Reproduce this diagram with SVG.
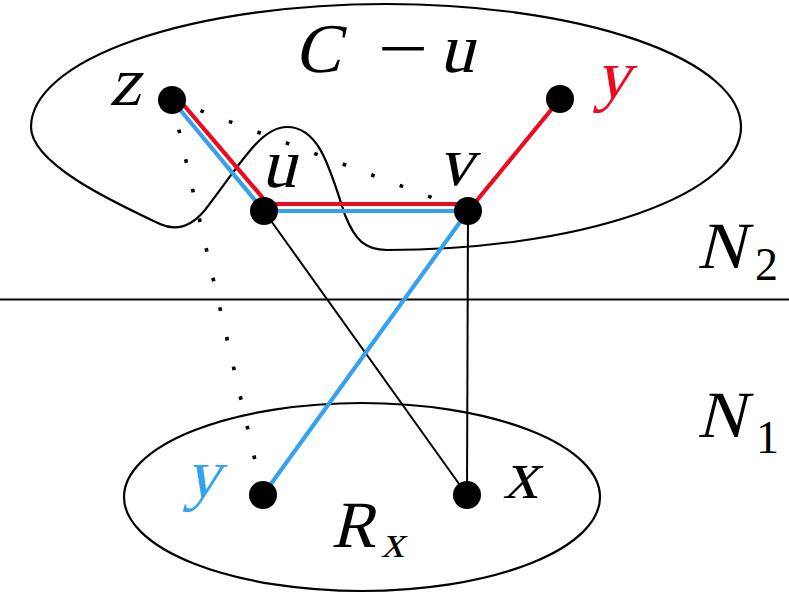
<svg xmlns="http://www.w3.org/2000/svg" width="789" height="593" viewBox="0 0 789 593">
<style>
.region{fill:none;stroke:#000;stroke-width:2.2}
.edge{fill:none;stroke:#000;stroke-width:2}
.dot{fill:none;stroke:#000;stroke-width:3.6;stroke-dasharray:3.6 26.8}
.red{fill:none;stroke:#ee0a1e;stroke-width:4.2;stroke-linejoin:miter}
.blue{fill:none;stroke:#35a2ef;stroke-width:4.2;stroke-linejoin:miter}
.node{fill:#000}
text{font-family:"Liberation Serif","Times New Roman",serif;font-style:normal;fill:#000}
.lbl{font-size:70px}
.sub{font-size:46px}
.op{font-size:70px;text-anchor:middle}
</style>
<rect width="789" height="593" fill="#fff"/>
<g id="regions">
<path class="region" d="M 387,250 A 355 123 0 1 0 31,127 C 31,165 120,205 160,224 C 175,231 190,228 205,210 C 240,165 260,127 287,127 C 320,127 330,170 345,215 C 355,240 365,250 387,250 Z"/>
<ellipse class="region" cx="362" cy="497" rx="238" ry="94"/>
<line class="region" x1="0" y1="299.5" x2="789" y2="299.5" stroke-width="2"/>
</g>
<g id="connectors">
<line class="dot" x1="172" y1="100" x2="263" y2="495"/>
<line class="dot" x1="172" y1="100" x2="468" y2="211"/>
<line class="edge" x1="264" y1="211" x2="467" y2="495"/>
<line class="edge" x1="468" y1="211" x2="467" y2="495"/>
<polyline class="red" points="176,96 268,204 474,204 560,99"/>
<polyline class="blue" points="172,100 264,211 468,211 263,495"/>
</g>
<g id="node-z"><circle class="node" cx="172" cy="100" r="14"/><text class="lbl" transform="translate(109,105) skewX(-14)">z</text></g>
<g id="node-u"><circle class="node" cx="264" cy="211" r="14"/><text class="lbl" transform="translate(261,187) skewX(-14)">u</text></g>
<g id="node-v"><circle class="node" cx="468" cy="211" r="14"/><text class="lbl" transform="translate(438,185) skewX(-14)">v</text></g>
<g id="node-y-top"><circle class="node" cx="560" cy="99" r="14"/><text class="lbl" transform="translate(595,98) skewX(-14)" style="fill:#ee0a1e">y</text></g>
<g id="node-y-bottom"><circle class="node" cx="263" cy="495" r="14"/><text class="lbl" transform="translate(185,497) skewX(-14)" style="fill:#35a2ef">y</text></g>
<g id="node-x"><circle class="node" cx="467" cy="495" r="14"/><text class="lbl" transform="translate(503,498) skewX(-14)">x</text></g>
<g id="labels">
<text class="lbl" transform="translate(294,72) skewX(-14)">C</text>
<text class="op" transform="translate(403,72) scale(1.28,1)">−</text>
<text class="lbl" transform="translate(439,72) skewX(-14)">u</text>
<text class="lbl" transform="translate(697,268) skewX(-14)" style="font-size:66px">N</text><text class="sub" x="755" y="280">2</text>
<text class="lbl" transform="translate(697,437) skewX(-14)" style="font-size:66px">N</text><text class="sub" x="756" y="453">1</text>
<text class="lbl" transform="translate(331,547) skewX(-14)" style="font-size:66px">R</text><text class="sub" transform="translate(381,557) skewX(-14)">x</text>
</g>
</svg>
